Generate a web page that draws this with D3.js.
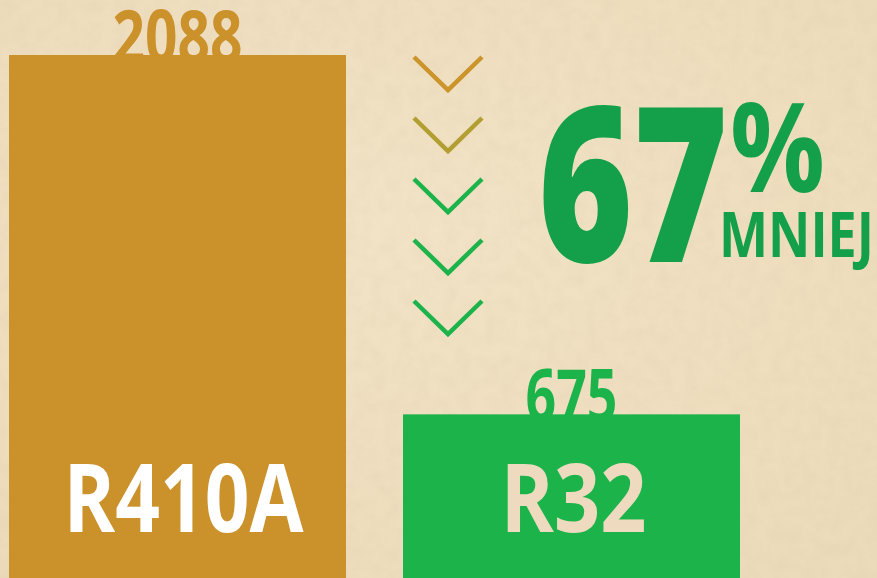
<!DOCTYPE html>
<html>
<head>
<meta charset="utf-8">
<script src="https://cdn.jsdelivr.net/npm/d3@7/dist/d3.min.js"></script>
<style>
  html, body { margin: 0; padding: 0; background: #EFDFC1; }
  svg { display: block; }
</style>
</head>
<body>
<svg id="chart" width="877" height="578"></svg>
<script>
// ---- data ----
const categories = ["R410A", "R32"];
const values = [2088, 675];
const chevronSteps = [0, 1, 2, 3, 4];
const reductionPct = 67;
const reductionLabel = "MNIEJ";

// ---- styles ----
const barColors = ["#CB912B", "#1DB34B"];
const valueColors = ["#CB912B", "#1DB34B"];
const nameColors = ["#FFFFFF", "#EEDBBF"];
const chevronColors = ["#CC952B", "#B29E31", "#1DB34B", "#1DB34B", "#1DB34B"];
const bigGreen = "#14A04A";
const FONT = "'Open Sans', 'Noto Sans', 'DejaVu Sans', sans-serif";

const W = 877, H = 578;
const svg = d3.select("#chart");

// background parchment
const defs = svg.append("defs");
const rg = defs.append("radialGradient").attr("id", "bg").attr("cx", "45%").attr("cy", "40%").attr("r", "75%");
rg.append("stop").attr("offset", "0%").attr("stop-color", "#F2E3C6");
rg.append("stop").attr("offset", "100%").attr("stop-color", "#ECDBBA");
const f = defs.append("filter").attr("id", "noise").attr("x", 0).attr("y", 0).attr("width", "100%").attr("height", "100%");
f.append("feTurbulence").attr("type", "fractalNoise").attr("baseFrequency", "0.07").attr("numOctaves", 3).attr("seed", 4).attr("result", "t");
f.append("feColorMatrix").attr("in", "t").attr("type", "matrix")
  .attr("values", "0 0 0 0 0.60  0 0 0 0 0.50  0 0 0 0 0.34  0 0 0 -1.2 0.8");
svg.append("rect").attr("width", W).attr("height", H).attr("fill", "url(#bg)");
svg.append("rect").attr("width", W).attr("height", H).attr("filter", "url(#noise)").attr("opacity", 0.18);

// scales
const x = d3.scaleBand().domain(categories).range([9, 740]).paddingInner(0.1447).paddingOuter(0);
const y = d3.scaleLinear().domain([0, d3.max(values)]).range([586, 55]);

const data = categories.map((c, i) => ({ c, v: values[i], i }));

// value labels (behind bars)
const valueLen = [130, 92];
svg.selectAll("text.val").data(data).join("text")
  .attr("class", "val")
  .attr("x", d => x(d.c) + x.bandwidth() / 2)
  .attr("y", d => y(d.v) + 8)
  .attr("text-anchor", "middle")
  .attr("font-family", FONT).attr("font-weight", 700).attr("font-size", 73)
  .attr("textLength", d => valueLen[d.i]).attr("lengthAdjust", "spacingAndGlyphs")
  .attr("fill", d => valueColors[d.i])
  .text(d => d.v);

// bars
svg.selectAll("rect.bar").data(data).join("rect")
  .attr("class", "bar")
  .attr("x", d => x(d.c))
  .attr("y", d => y(d.v))
  .attr("width", x.bandwidth())
  .attr("height", d => y(0) - y(d.v))
  .attr("fill", d => barColors[d.i]);

// category names inside bars
const nameLen = [240, 146];
const nameDx = [6, 2];
svg.selectAll("text.name").data(data).join("text")
  .attr("class", "name")
  .attr("x", d => x(d.c) + x.bandwidth() / 2 + nameDx[d.i])
  .attr("y", 532)
  .attr("text-anchor", "middle")
  .attr("font-family", FONT).attr("font-weight", 700).attr("font-size", 95)
  .attr("textLength", d => nameLen[d.i]).attr("lengthAdjust", "spacingAndGlyphs")
  .attr("fill", d => nameColors[d.i])
  .text(d => d.c);

// chevrons
const cy = d3.scaleLinear().domain([0, chevronSteps.length - 1]).range([57, 301]);
const cx = 448, halfW = 34, depth = 33;
svg.selectAll("path.chev").data(chevronSteps).join("path")
  .attr("class", "chev")
  .attr("d", d => `M${cx - halfW},${cy(d)} L${cx},${cy(d) + depth} L${cx + halfW},${cy(d)}`)
  .attr("fill", "none")
  .attr("stroke", d => chevronColors[d])
  .attr("stroke-width", 4.5)
  .attr("stroke-linejoin", "miter");

// big percentage
svg.append("text")
  .attr("x", 538).attr("y", 262)
  .attr("font-family", FONT).attr("font-weight", 800).attr("font-size", 216)
  .attr("textLength", 190).attr("lengthAdjust", "spacingAndGlyphs")
  .attr("fill", bigGreen)
  .text(reductionPct);
svg.append("text")
  .attr("x", 730).attr("y", 192)
  .attr("font-family", FONT).attr("font-weight", 700).attr("font-size", 124)
  .attr("textLength", 95).attr("lengthAdjust", "spacingAndGlyphs")
  .attr("fill", bigGreen)
  .text("%");
svg.append("text")
  .attr("x", 719).attr("y", 257)
  .attr("font-family", FONT).attr("font-weight", 700).attr("font-size", 62)
  .attr("textLength", 155).attr("lengthAdjust", "spacingAndGlyphs")
  .attr("fill", bigGreen)
  .text(reductionLabel);
</script>
</body>
</html>
